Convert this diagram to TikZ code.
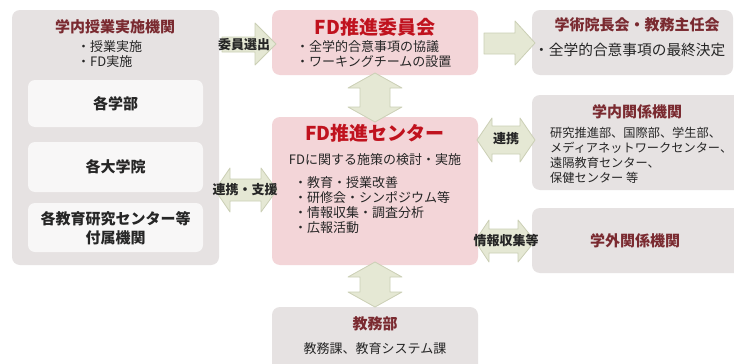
\documentclass[tikz,border=0pt]{standalone}
\usepackage{fontspec}
\setmainfont{Noto Sans CJK JP}
\begin{document}
\begin{tikzpicture}[x=1pt,y=-1pt,
  graybox/.style={fill=boxgray,draw=none,rounded corners=8pt},
  pinkbox/.style={fill=boxpink,draw=none,rounded corners=8pt},
  innerbox/.style={fill=boxwhite,draw=none,rounded corners=7pt},
  blockarrow/.style={fill=arrowfill,draw=arrowedge,line width=0.8pt,line join=round},
  dtitle/.style={font=\bfseries\fontsize{15}{18}\selectfont,text=darkred,inner sep=0pt},
  rtitle/.style={font=\bfseries\fontsize{19}{22}\selectfont,text=brightred,inner sep=0pt},
  body/.style={font=\fontsize{13}{15}\selectfont,text=textgray,inner sep=0pt},
  unit/.style={font=\bfseries\fontsize{15}{19}\selectfont,text=textgray,inner sep=0pt,align=center},
  alabel/.style={font=\bfseries\fontsize{13}{15}\selectfont,text=textgray,inner sep=0pt}
]
\definecolor{boxgray}{HTML}{E6E2E2}
\definecolor{boxpink}{HTML}{F3D5D8}
\definecolor{boxwhite}{HTML}{F8F7F7}
\definecolor{arrowfill}{HTML}{E5E8D4}
\definecolor{arrowedge}{HTML}{CBCFB5}
\definecolor{darkred}{HTML}{7A2A30}
\definecolor{brightred}{HTML}{C0121E}
\definecolor{textgray}{HTML}{262626}
\useasboundingbox (0,0) rectangle (734,364);
\clip (0,0) rectangle (734,364);
\fill[white] (0,0) rectangle (734,364);

% boxes
\path[graybox] (12,10) rectangle (219,265);
\node (lefttitle) [dtitle] at (115,27) {学内授業実施機関};
\node (l1) [body,anchor=west] at (77,47) {・授業実施};
\node (l2) [body,anchor=west] at (77,62) {・FD実施};
\path[innerbox] (28,80) rectangle (203,127);
\node (gakubu) [unit] at (115.5,104) {各学部};
\path[innerbox] (28,142) rectangle (203,192);
\node (daigakuin) [unit] at (115.5,167) {各大学院};
\path[innerbox] (28,203) rectangle (203,252);
\node (center) [unit] at (115.5,228) {各教育研究センター等\\付属機関};

\path[pinkbox] (272,10) rectangle (478,75);
\node (iinkai) [rtitle] at (375,27) {FD推進委員会};
\node (i1) [body,anchor=west] at (296,47) {・全学的合意事項の協議};
\node (i2) [body,anchor=west] at (296,62) {・ワーキングチームの設置};

\path[pinkbox] (272,117) rectangle (478,265);
\node (fdc) [rtitle] at (375,133) {FD推進センター};
\node (fdc0) [body] at (375,160) {FDに関する施策の検討・実施};
\node (c1) [body,anchor=west] at (294,183) {・教育・授業改善};
\node (c2) [body,anchor=west] at (294,198) {・研修会・シンポジウム等};
\node (c3) [body,anchor=west] at (294,213) {・情報収集・調査分析};
\node (c4) [body,anchor=west] at (294,228) {・広報活動};

\path[graybox] (272,307) rectangle (478,380);
\node (kyomu) [dtitle] at (375,324) {教務部};
\node (kyomu1) [body] at (375,349) {教務課、教育システム課};

\path[graybox] (532,10) rectangle (733,75);
\node (gakujutsu) [dtitle] at (637,25) {学術院長会・教務主任会};
\node (g1) [body,anchor=west,font=\fontsize{14.7}{16}\selectfont] at (534,50) {・全学的合意事項の最終決定};

\path[graybox] (532,95) rectangle (745,190);
\node (gakunai) [dtitle] at (637,112) {学内関係機関};
\node (n1) [body,anchor=west,font=\fontsize{12.2}{15}\selectfont] at (550,133) {研究推進部、国際部、学生部、};
\node (n2) [body,anchor=west,font=\fontsize{12.2}{15}\selectfont] at (550,148) {メディアネットワークセンター、};
\node (n3) [body,anchor=west,font=\fontsize{12.2}{15}\selectfont] at (550,163) {遠隔教育センター、};
\node (n4) [body,anchor=west,font=\fontsize{12.2}{15}\selectfont] at (550,178) {保健センター 等};

\path[graybox] (532,208) rectangle (745,273);
\node (gakugai) [dtitle] at (635,241) {学外関係機関};

% block arrows
% 委員選出 (single, right)
\draw[blockarrow] (222,37) -- (255,37) -- (255,23) -- (276,44) -- (255,65) -- (255,52) -- (222,52) -- cycle;
\node (a1) [alabel] at (244,45) {委員選出};
% 委員会 -> 学術院長会
\draw[blockarrow] (484,33) -- (515,33) -- (515,21) -- (535,43) -- (515,65) -- (515,54) -- (484,54) -- cycle;
% 委員会 <-> センター
\draw[blockarrow] (375,73) -- (402,88) -- (390,88) -- (390,107) -- (402,107) -- (375,122) -- (348,107) -- (360,107) -- (360,88) -- (348,88) -- cycle;
% センター <-> 教務部
\draw[blockarrow] (375,262) -- (402,277) -- (390,277) -- (390,292) -- (402,292) -- (375,307) -- (348,292) -- (360,292) -- (360,277) -- (348,277) -- cycle;
% 連携・支援
\draw[blockarrow] (215,190) -- (230,168) -- (230,179) -- (261,179) -- (261,168) -- (277,190) -- (261,212) -- (261,201) -- (230,201) -- (230,212) -- cycle;
\node (a2) [alabel] at (245,190) {連携・支援};
% 連携
\draw[blockarrow] (477,140) -- (492,118) -- (492,126) -- (520,126) -- (520,118) -- (535,140) -- (520,162) -- (520,154) -- (492,154) -- (492,162) -- cycle;
\node (a3) [alabel] at (506,139) {連携};
% 情報収集等
\draw[blockarrow] (475,241) -- (489,220) -- (489,229) -- (518,229) -- (518,220) -- (535,241) -- (518,262) -- (518,253) -- (489,253) -- (489,262) -- cycle;
\node (a4) [alabel] at (506,241) {情報収集等};
\end{tikzpicture}
\end{document}
